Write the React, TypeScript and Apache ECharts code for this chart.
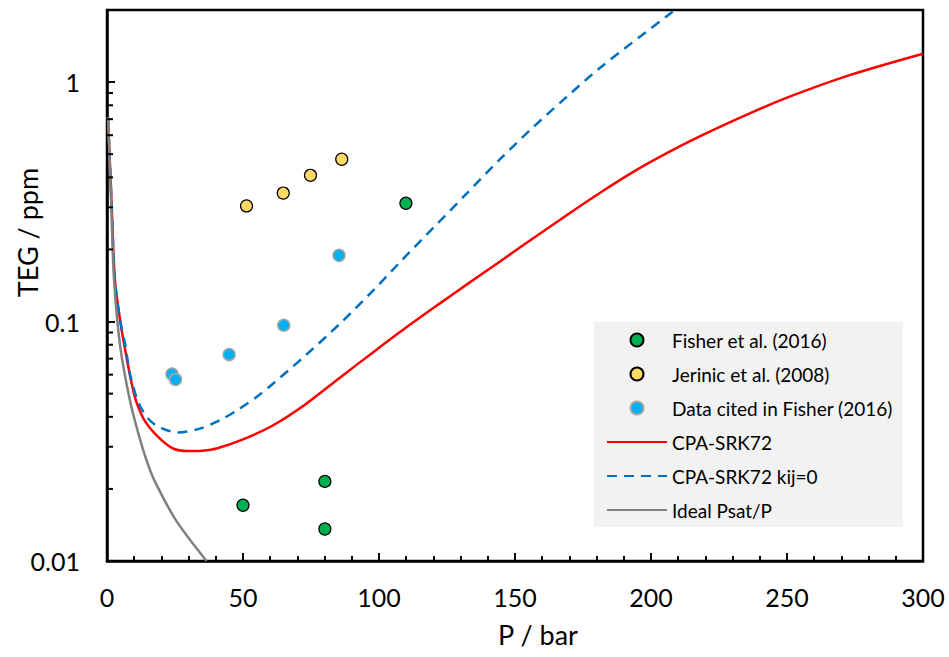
import React, { useEffect, useRef } from "react";
import * as echarts from "echarts";

// ---- data ----
const fisherP = [50.0, 80.1, 80.1, 109.9];
const fisherV = [0.0171, 0.0215, 0.0136, 0.312];

const jerinicP = [51.3, 64.8, 74.8, 86.3];
const jerinicV = [0.304, 0.344, 0.408, 0.476];

const citedP = [23.9, 25.2, 44.9, 65.0, 85.3];
const citedV = [0.0603, 0.0573, 0.0728, 0.0965, 0.189];

const cpaP = [0.37, 1.6, 2.9, 4.9, 6.7, 9.0, 10.8, 13.9, 18.8, 24.3, 29.8, 35, 40.3, 50, 61.1, 73.4, 85.6, 97.9, 110.2, 122.4, 132.2, 144.5, 156.7, 169, 181.3, 193.5, 205.8, 218.1, 236.5, 250, 273.3, 300];
const cpaV = [0.714, 0.33, 0.15, 0.1, 0.0759, 0.0556, 0.0462, 0.0385, 0.033, 0.0295, 0.0288, 0.0289, 0.0295, 0.0322, 0.0369, 0.0455, 0.0583, 0.0745, 0.0948, 0.1191, 0.1426, 0.1782, 0.2228, 0.278, 0.3451, 0.4217, 0.5047, 0.5943, 0.7413, 0.861, 1.0715, 1.314];

const kij0P = [0.37, 1.6, 2.9, 4.9, 6.7, 8.5, 11.7, 15.7, 20, 26.1, 34.1, 41.5, 48.8, 55, 61.1, 73.4, 85.6, 97.9, 107.7, 120, 132.2, 144.5, 156.7, 169, 181.3, 207, 212];
const kij0V = [0.714, 0.33, 0.15, 0.1, 0.08, 0.06, 0.0455, 0.0387, 0.0359, 0.0344, 0.0357, 0.0387, 0.0433, 0.0484, 0.0551, 0.0729, 0.0979, 0.1349, 0.177, 0.2466, 0.342, 0.4764, 0.6486, 0.867, 1.148, 1.93, 2.123];

const idealP = [0.37, 1.5, 2.6, 4.9, 8.4, 11.4, 14.5, 17.6, 25.5, 36.6];
const idealV = [0.714, 0.32, 0.149, 0.078, 0.047, 0.0345, 0.0264, 0.0215, 0.0147, 0.01];

const yMinorTicks = [0.02, 0.03, 0.04, 0.05, 0.06, 0.07, 0.08, 0.09, 0.2, 0.3, 0.4, 0.5, 0.6, 0.7, 0.8, 0.9];

const scatterNames = ["Fisher et al. (2016)", "Jerinic et al. (2008)", "Data cited in Fisher (2016)"];
const lineNames = ["CPA-SRK72", "CPA-SRK72 kij=0", "Ideal Psat/P"];

const zip = (a: number[], b: number[]) => a.map((v, i) => [v, b[i]]);

const FONT = "Lato, 'Open Sans', sans-serif";

export default function App() {
  const ref = useRef<HTMLDivElement>(null);
  useEffect(() => {
    if (!ref.current) return;
    const chart = echarts.init(ref.current, undefined, { renderer: "svg" });
    const option: any = {
      animation: false,
      textStyle: { fontFamily: FONT, color: "#000" },
      grid: {
        left: 107,
        right: 26,
        top: 10,
        bottom: 96,
        show: true,
        borderColor: "#000",
        borderWidth: 2.5,
        backgroundColor: "transparent",
        containLabel: false,
        outerBoundsMode: "none",
      },
      legend: {
        data: [
          ...scatterNames.map((n) => ({ name: n })),
          ...lineNames.map((n) => ({ name: n, itemStyle: { opacity: 0 } })),
        ],
        orient: "vertical",
        left: 594,
        top: 322,
        padding: [8, 10, 7, 12],
        backgroundColor: "#f2f2f2",
        itemWidth: 60,
        itemHeight: 13,
        itemGap: 14,
        textStyle: { fontFamily: FONT, fontSize: 19, color: "#000", lineHeight: 20 },
        selectedMode: false,
      },
      xAxis: {
        type: "value",
        min: 0,
        max: 300,
        interval: 50,
        name: "P / bar",
        nameLocation: "middle",
        nameGap: 60,
        nameMoveOverlap: false,
        nameTextStyle: { fontFamily: FONT, fontSize: 27, color: "#000", padding: [0, 0, 0, 46] },
        axisLine: { show: true, onZero: false, lineStyle: { color: "#000", width: 2.5 } },
        axisTick: { show: true, inside: true, length: 8, lineStyle: { color: "#000", width: 2 } },
        minorTick: { show: true, splitNumber: 5, length: 5, lineStyle: { color: "#000", width: 2 } },
        splitLine: { show: false },
        axisLabel: { fontFamily: FONT, fontSize: 25, color: "#000", margin: 23 },
      },
      yAxis: {
        type: "log",
        logBase: 10,
        min: 0.01,
        max: 2,
        name: "TEG / ppm",
        nameLocation: "middle",
        nameRotate: 90,
        nameGap: 66,
        nameMoveOverlap: false,
        nameTextStyle: { fontFamily: FONT, fontSize: 27, color: "#000", padding: [0, 0, 0, 106] },
        axisLine: { show: true, onZero: false, lineStyle: { color: "#000", width: 2.5 } },
        axisTick: { show: true, inside: true, length: 8, lineStyle: { color: "#000", width: 2 } },
        minorTick: { show: false },
        splitLine: { show: false },
        axisLabel: {
          fontFamily: FONT,
          fontSize: 25,
          color: "#000",
          margin: 27,
          showMaxLabel: false,
          formatter: (v: number) => {
            const l = Math.log10(v);
            return Math.abs(l - Math.round(l)) < 1e-6 ? String(Number(v.toPrecision(6))) : "";
          },
        },
      },
      series: [
        {
          name: "CPA-SRK72",
          type: "line",
          data: zip(cpaP, cpaV),
          showSymbol: false,
          symbol: "none",
          smooth: 0.3,
          lineStyle: { color: "#ff0000", width: 2.5 },
          itemStyle: { color: "#ff0000" },
          z: 3,
        },
        {
          name: "CPA-SRK72 kij=0",
          type: "line",
          data: zip(kij0P, kij0V),
          showSymbol: false,
          symbol: "none",
          smooth: 0.3,
          lineStyle: { color: "#0070c0", width: 2.5, type: [10, 7] },
          itemStyle: { color: "#0070c0" },
          z: 3,
        },
        {
          name: "Ideal Psat/P",
          type: "line",
          data: zip(idealP, idealV),
          showSymbol: false,
          symbol: "none",
          smooth: 0.3,
          lineStyle: { color: "#808080", width: 2.5 },
          itemStyle: { color: "#808080" },
          z: 3,
        },
        {
          name: "Fisher et al. (2016)",
          type: "scatter",
          data: zip(fisherP, fisherV),
          symbol: "circle",
          symbolSize: 12,
          itemStyle: { color: "#00b050", borderColor: "#000", borderWidth: 1.2, opacity: 1 },
          z: 5,
        },
        {
          name: "Jerinic et al. (2008)",
          type: "scatter",
          data: zip(jerinicP, jerinicV),
          symbol: "circle",
          symbolSize: 12,
          itemStyle: { color: "#ffd966", borderColor: "#000", borderWidth: 1.2, opacity: 1 },
          z: 5,
        },
        {
          name: "Data cited in Fisher (2016)",
          type: "scatter",
          data: zip(citedP, citedV),
          symbol: "circle",
          symbolSize: 12,
          itemStyle: { color: "#00b0f0", borderColor: "#a6a6a6", borderWidth: 1.5, opacity: 1 },
          z: 5,
        },
        {
          name: "yMinorTicks",
          type: "custom",
          silent: true,
          data: yMinorTicks.map((v) => [0, v]),
          encode: { x: 0, y: 1 },
          renderItem: (params: any, api: any) => {
            const p = api.coord([api.value(0), api.value(1)]);
            return {
              type: "line",
              shape: { x1: p[0], y1: p[1], x2: p[0] + 6, y2: p[1] },
              style: { stroke: "#000", lineWidth: 2 },
            };
          },
          z: 6,
        },
      ],
    };
    chart.setOption(option);
    return () => chart.dispose();
  }, []);
  return (
    <div
      ref={ref}
      style={{ position: "absolute", left: 0, top: 0, width: 949, height: 657 }}
    />
  );
}
